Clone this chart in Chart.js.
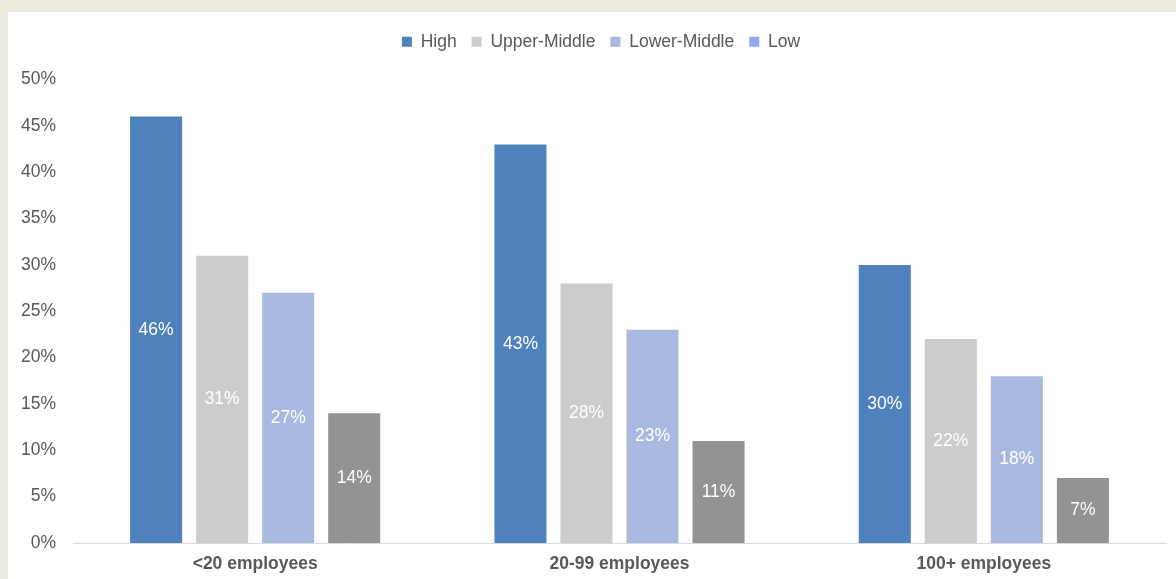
<!DOCTYPE html>
<html>
<head>
<meta charset="utf-8">
<script src="https://cdn.jsdelivr.net/npm/chart.js@4"></script>
<style>
  html, body { margin: 0; padding: 0; background: #EEEBE0; }
  #wrap { position: absolute; left: 8px; top: 12px; width: 1168px; height: 567px; background: #fff; }
</style>
</head>
<body>
<div id="wrap"><canvas id="incomeChart"></canvas></div>
<script>
const categories = ["<20 employees", "20-99 employees", "100+ employees"];
const seriesNames = ["High", "Upper-Middle", "Lower-Middle", "Low"];
const highValues = [46, 43, 30];
const upperMiddleValues = [31, 28, 22];
const lowerMiddleValues = [27, 23, 18];
const lowValues = [14, 11, 7];
const barColors = ["#4F81BD", "#CCCCCC", "#A9B9E0", "#939393"];
const legendColors = ["#4F81BD", "#CCCCCC", "#A9B9E0", "#8FAAF0"];

const fontFamily = "'Liberation Sans', Arial, sans-serif";

// white % labels in the middle of each bar
const barLabels = {
    id: "barLabels",
    afterDatasetsDraw(chart) {
        const ctx = chart.ctx;
        ctx.save();
        ctx.font = "17.5px " + fontFamily;
        ctx.fillStyle = "#ffffff";
        ctx.textAlign = "center";
        ctx.textBaseline = "middle";
        chart.data.datasets.forEach(function (ds, i) {
            chart.getDatasetMeta(i).data.forEach(function (bar, j) {
                const mid = (bar.y + bar.base) / 2;
                ctx.fillText(ds.data[j] + "%", bar.x, mid);
            });
        });
        ctx.restore();
    }
};

// extra space under the legend, and nudge it a bit right/down
const legendTweak = {
    id: "legendTweak",
    beforeInit(chart) {
        const legend = chart.legend;
        const origFit = legend.fit;
        const origDraw = legend.draw;
        legend.fit = function () {
            origFit.bind(legend)();
            this.height += 22;
        };
        legend.draw = function () {
            const ctx = chart.ctx;
            ctx.save();
            ctx.translate(14, 3);
            origDraw.apply(legend, arguments);
            ctx.restore();
        };
    }
};

const allValues = [highValues, upperMiddleValues, lowerMiddleValues, lowValues];

new Chart(document.getElementById("incomeChart"), {
    type: "bar",
    data: {
        labels: categories,
        datasets: seriesNames.map(function (name, i) {
            return {
                label: name,
                data: allValues[i],
                backgroundColor: barColors[i],
                borderWidth: 0,
                categoryPercentage: 0.725,
                barPercentage: 0.788,
            };
        }),
    },
    options: {
        responsive: true,
        maintainAspectRatio: false,
        animation: false,
        layout: { padding: { top: 3, right: 10, left: 0, bottom: 0 } },
        plugins: {
            tooltip: { enabled: false },
            legend: {
                position: "top",
                labels: {
                    font: { family: fontFamily, size: 17.5 },
                    color: "#595959",
                    boxWidth: 10,
                    boxHeight: 10,
                    padding: 15,
                    generateLabels: function (chart) {
                        return seriesNames.map(function (name, i) {
                            return {
                                text: name,
                                fillStyle: legendColors[i],
                                strokeStyle: legendColors[i],
                                lineWidth: 0,
                                fontColor: "#595959",
                                datasetIndex: i,
                            };
                        });
                    },
                },
            },
        },
        scales: {
            x: {
                grid: { display: false, drawTicks: false },
                border: { color: "#D9D9D9", width: 1 },
                afterFit: function (scale) { scale.height = 36; },
                ticks: {
                    color: "#595959",
                    padding: 11,
                    font: { family: fontFamily, size: 17.5, weight: "bold" },
                },
            },
            y: {
                min: 0,
                max: 50,
                grid: { display: false, drawTicks: false },
                border: { display: false },
                afterFit: function (scale) { scale.width = 65; },
                ticks: {
                    stepSize: 5,
                    color: "#595959",
                    padding: 17,
                    font: { family: fontFamily, size: 17.5 },
                    callback: function (v) { return v + "%"; },
                },
            },
        },
    },
    plugins: [barLabels, legendTweak],
});
</script>
</body>
</html>
